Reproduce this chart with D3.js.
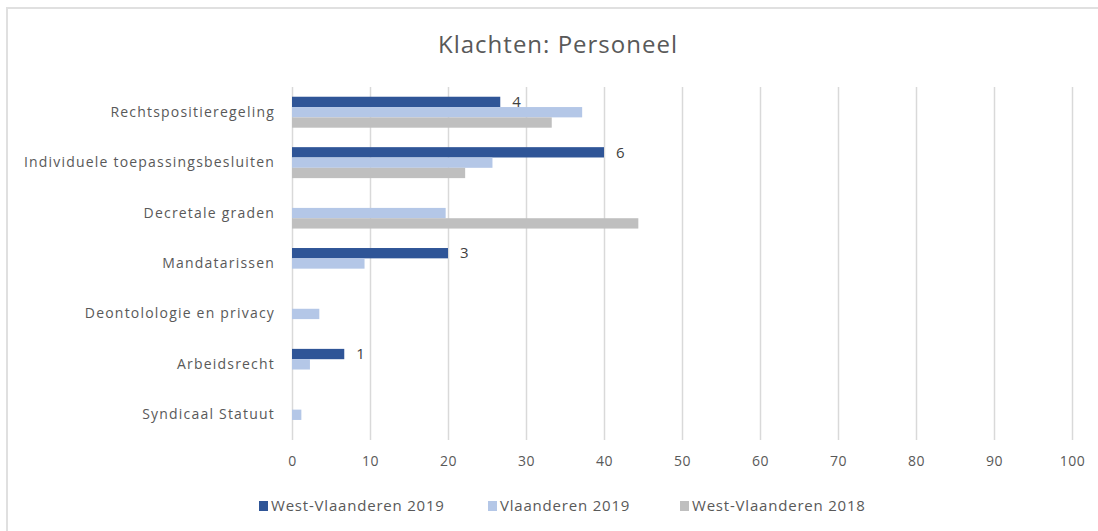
<!DOCTYPE html>
<html>
<head>
<meta charset="utf-8">
<script src="https://cdn.jsdelivr.net/npm/d3@7"></script>
<style>
  body { margin: 0; background: #fff; }
  svg { display: block; font-family: "Open Sans", sans-serif; }
</style>
</head>
<body>
<div id="chart"></div>
<script>
const width = 1098;
const height = 531;
const margin = { top: 87, right: 26, bottom: 91, left: 292 };

// categorieën en reeksen (percentages)
const categories = [
    'Rechtspositieregeling',
    'Individuele toepassingsbesluiten',
    'Decretale graden',
    'Mandatarissen',
    'Deontolologie en privacy',
    'Arbeidsrecht',
    'Syndicaal Statuut'
];
const seriesNames = ['West-Vlaanderen 2019', 'Vlaanderen 2019', 'West-Vlaanderen 2018'];
const westVl2019 = [26.7, 40, 0, 20, 0, 6.7, 0];
const vlaanderen2019 = [37.2, 25.7, 19.7, 9.3, 3.5, 2.3, 1.2];
const westVl2018 = [33.3, 22.2, 44.4, 0, 0, 0, 0];
const westVl2019Counts = [4, 6, null, 3, null, 1, null];
const xTicks = [0, 10, 20, 30, 40, 50, 60, 70, 80, 90, 100];
const colors = ['#2F5597', '#B4C7E7', '#BFBFBF'];

const seriesValues = [westVl2019, vlaanderen2019, westVl2018];

const svg = d3.select('#chart')
    .append('svg')
    .attr('width', width)
    .attr('height', height);

// kader
svg.append('rect')
    .attr('x', 7)
    .attr('y', 8)
    .attr('width', width)
    .attr('height', height)
    .attr('fill', 'none')
    .attr('stroke', '#e0e0e0')
    .attr('stroke-width', 2);

// schalen
const x = d3.scaleLinear()
    .domain([0, 100])
    .range([margin.left, width - margin.right]);

const y = d3.scaleBand()
    .domain(categories)
    .range([margin.top, height - margin.bottom])
    .paddingInner(0.386)
    .paddingOuter(0.193);

const ySub = d3.scaleBand()
    .domain(seriesNames)
    .range([0, y.bandwidth()]);

// rasterlijnen
svg.append('g')
    .attr('transform', `translate(0, ${height - margin.bottom})`)
    .call(d3.axisBottom(x)
        .tickValues(xTicks)
        .tickSize(-(height - margin.top - margin.bottom))
        .tickPadding(16))
    .call(g => g.select('.domain').remove())
    .call(g => g.selectAll('.tick line')
        .attr('stroke', '#d9d9d9')
        .attr('stroke-width', 1.5))
    .call(g => g.selectAll('.tick text')
        .attr('fill', '#595959')
        .attr('font-size', '14px')
        .attr('letter-spacing', '0.5px')
        .attr('font-family', '"Open Sans", sans-serif'));

// categorie-labels
svg.append('g')
    .attr('transform', `translate(${margin.left}, 0)`)
    .call(d3.axisLeft(y).tickSize(0).tickPadding(17))
    .call(g => g.select('.domain').remove())
    .call(g => g.selectAll('.tick text')
        .attr('fill', '#595959')
        .attr('font-size', '14px')
        .attr('letter-spacing', '1.2px')
        .attr('font-family', '"Open Sans", sans-serif'));

// barren
const rows = [];
seriesNames.forEach((s, si) => {
    categories.forEach((c, ci) => {
        rows.push({ series: s, si: si, category: c, value: seriesValues[si][ci] });
    });
});

svg.append('g')
    .selectAll('rect')
    .data(rows.filter(d => d.value > 0))
    .join('rect')
    .attr('x', x(0))
    .attr('y', d => y(d.category) + ySub(d.series))
    .attr('width', d => x(d.value) - x(0))
    .attr('height', ySub.bandwidth())
    .attr('fill', d => colors[d.si]);

// gegevenslabels
svg.append('g')
    .selectAll('text')
    .data(categories.map((c, i) => ({ category: c, value: westVl2019[i], count: westVl2019Counts[i] }))
        .filter(d => d.count !== null))
    .join('text')
    .attr('x', d => x(d.value) + 12)
    .attr('y', d => y(d.category) + ySub(seriesNames[0]) + ySub.bandwidth() / 2)
    .attr('dy', '0.35em')
    .attr('fill', '#404040')
    .attr('font-size', '15px')
    .text(d => d.count);

// titel
svg.append('text')
    .attr('x', 558)
    .attr('y', 45)
    .attr('dy', '0.35em')
    .attr('text-anchor', 'middle')
    .attr('fill', '#595959')
    .attr('font-size', '24px')
    .attr('letter-spacing', '1px')
    .text('Klachten: Personeel');

// legenda
const legendX = [259, 488, 680];
const legend = svg.append('g')
    .selectAll('g')
    .data(seriesNames)
    .join('g')
    .attr('transform', (d, i) => `translate(${legendX[i]}, 506)`);

legend.append('rect')
    .attr('x', 0)
    .attr('y', -5)
    .attr('width', 9)
    .attr('height', 10)
    .attr('fill', (d, i) => colors[i]);

legend.append('text')
    .attr('x', 12)
    .attr('dy', '0.35em')
    .attr('fill', '#595959')
    .attr('font-size', '15px')
    .attr('letter-spacing', '0.8px')
    .text(d => d);
</script>
</body>
</html>
